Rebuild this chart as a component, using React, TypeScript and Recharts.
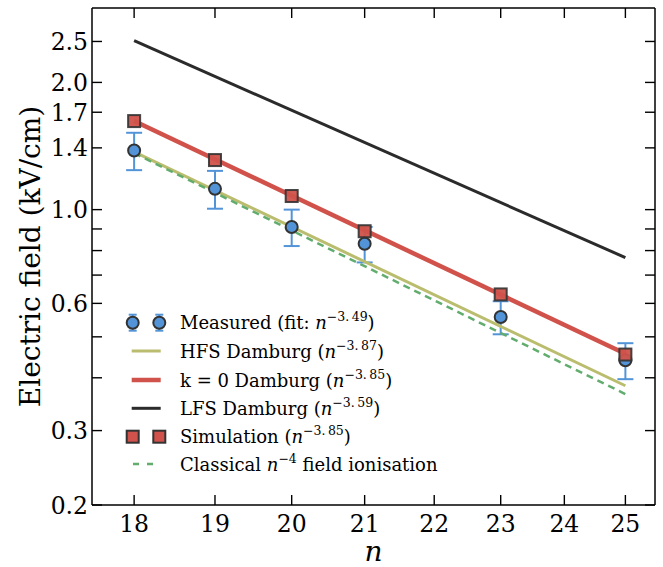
import React from 'react';
import { ComposedChart, Line, Scatter, XAxis, YAxis, ErrorBar, Legend } from 'recharts';

// ---- data ----
const nMeasured = [18, 19, 20, 21, 23, 25];
const measuredField = [1.38, 1.12, 0.91, 0.83, 0.557, 0.44];
const measuredError = [0.14, 0.115, 0.09, 0.08, 0.05, 0.043];
const simulationField = [1.62, 1.31, 1.077, 0.889, 0.63, 0.454];
const lineN = [18, 25];
const hfsField = [1.37, 0.383];
const k0Field = [1.62, 0.456];
const lfsField = [2.51, 0.77];
const classicalField = [1.36, 0.366];
const xTicks = [18, 19, 20, 21, 22, 23, 24, 25];
const yTicks = [0.2, 0.3, 0.4, 0.5, 0.6, 0.7, 0.8, 0.9, 1.0, 1.4, 1.7, 2.0, 2.5];
const yLabelled = [0.2, 0.3, 0.6, 1.0, 1.4, 1.7, 2.0, 2.5];
const legendLabels = [
  { pre: 'Measured (fit: ', exp: '\u22123.\u200949', post: ')' },
  { pre: 'HFS Damburg (', exp: '\u22123.\u200987', post: ')' },
  { pre: 'k = 0 Damburg (', exp: '\u22123.\u200985', post: ')' },
  { pre: 'LFS Damburg (', exp: '\u22123.\u200959', post: ')' },
  { pre: 'Simulation (', exp: '\u22123.\u200985', post: ')' },
  { pre: 'Classical ', exp: '\u22124', post: ' field ionisation' },
];

const measuredData = nMeasured.map((n, i) => ({ n, v: measuredField[i], err: measuredError[i] }));
const simulationData = nMeasured.map((n, i) => ({ n, v: simulationField[i] }));
const hfsData = lineN.map((n, i) => ({ n, v: hfsField[i] }));
const k0Data = lineN.map((n, i) => ({ n, v: k0Field[i] }));
const lfsData = lineN.map((n, i) => ({ n, v: lfsField[i] }));
const classicalData = lineN.map((n, i) => ({ n, v: classicalField[i] }));

// ---- style ----
const FONT = "'DejaVu Serif', serif";
const BLUE = '#5394d8';
const RED = '#d0524a';
const OLIVE = '#bbbd6e';
const BLACK = '#2b2b2b';
const GREEN = '#62ad6e';
const EDGE = '#333333';
const TICK_LEN = 10;
const TICK_FS = 23.5;

const BottomTick = (props: any) => {
  const { x, y, payload } = props;
  return (
    <g>
      <line x1={x} x2={x} y1={y} y2={y - TICK_LEN} stroke="#000" strokeWidth={1.4} />
      <text x={x} y={y + 27} textAnchor="middle" fontFamily={FONT} fontSize={TICK_FS} fill="#000">
        {payload.value}
      </text>
    </g>
  );
};
const TopTick = (props: any) => {
  const { x, y } = props;
  return <line x1={x} x2={x} y1={y} y2={y + TICK_LEN} stroke="#000" strokeWidth={1.4} />;
};
const LeftTick = (props: any) => {
  const { x, y, payload } = props;
  const v = payload.value;
  const show = yLabelled.some((t) => Math.abs(t - v) < 1e-9);
  return (
    <g>
      <line x1={x} x2={x + TICK_LEN} y1={y} y2={y} stroke="#000" strokeWidth={1.4} />
      {show && (
        <text x={x - 4} y={y + 8.5} textAnchor="end" fontFamily={FONT} fontSize={TICK_FS} fill="#000">
          {v.toFixed(1)}
        </text>
      )}
    </g>
  );
};
const RightTick = (props: any) => {
  const { x, y } = props;
  return <line x1={x - TICK_LEN} x2={x} y1={y} y2={y} stroke="#000" strokeWidth={1.4} />;
};

const CircleShape = (props: any) => (
  <circle cx={props.cx} cy={props.cy} r={6} fill={BLUE} stroke={EDGE} strokeWidth={2} />
);
const SquareShape = (props: any) => (
  <rect x={props.cx - 6} y={props.cy - 6} width={12} height={12} fill={RED} fillOpacity={0.95} stroke={EDGE} strokeWidth={2} strokeOpacity={0.9} />
);

const LegendBox = () => {
  const rows = [17.7, 46, 75, 103.3, 131.7, 159];
  const mx = [22.7, 49.3];
  return (
    <svg width={380} height={180} style={{ display: 'block', overflow: 'visible' }}>
      {mx.map((x) => (
        <g key={'m' + x}>
          <line x1={x} x2={x} y1={rows[0] - 8} y2={rows[0] + 8} stroke={BLUE} strokeWidth={2} />
          <line x1={x - 4} x2={x + 4} y1={rows[0] - 8} y2={rows[0] - 8} stroke={BLUE} strokeWidth={2} />
          <line x1={x - 4} x2={x + 4} y1={rows[0] + 8} y2={rows[0] + 8} stroke={BLUE} strokeWidth={2} />
          <circle cx={x} cy={rows[0]} r={6} fill={BLUE} stroke={EDGE} strokeWidth={2} />
        </g>
      ))}
      <line x1={21.7} x2={50.7} y1={rows[1]} y2={rows[1]} stroke={OLIVE} strokeWidth={3} />
      <line x1={21.7} x2={50.7} y1={rows[2]} y2={rows[2]} stroke={RED} strokeWidth={4.5} />
      <line x1={21.7} x2={50.7} y1={rows[3]} y2={rows[3]} stroke={BLACK} strokeWidth={3} />
      {mx.map((x) => (
        <rect key={'s' + x} x={x - 6} y={rows[4] - 6} width={12} height={12} fill={RED} stroke={EDGE} strokeWidth={2} />
      ))}
      <line x1={23} x2={43} y1={rows[5]} y2={rows[5]} stroke={GREEN} strokeWidth={2.5} strokeDasharray="6 8" />
      {legendLabels.map((l, i) => (
        <text key={i} x={70} y={rows[i] + 6.5} fontFamily={FONT} fontSize={18} fill="#000" style={{ whiteSpace: 'pre' }}>
          <tspan>{l.pre}</tspan>
          <tspan fontStyle="italic">n</tspan>
          <tspan dy={-8} fontSize={12.5}>{l.exp}</tspan>
          <tspan dy={8}>{l.post}</tspan>
        </text>
      ))}
    </svg>
  );
};

export default function App() {
  return (
    <div style={{ position: 'absolute', left: 0, top: 0, width: 663, height: 567, background: '#fff' }}>
      <ComposedChart width={663} height={567} margin={{ top: 7, right: 7, bottom: 0, left: 0 }}>
        <XAxis
          dataKey="n"
          type="number"
          scale="log"
          domain={[17.5, 25.5]}
          allowDataOverflow
          ticks={xTicks}
          interval={0}
          height={62}
          tickSize={0}
          tickMargin={0}
          axisLine={{ stroke: '#000', strokeWidth: 1.5 }}
          tick={<BottomTick />}
          label={(p: any) => {
            const vb = p.viewBox || { x: 92, y: 505, width: 563 };
            return (
              <text x={vb.x + vb.width / 2} y={vb.y + 56} textAnchor="middle" fontFamily={FONT} fontSize={28} fontStyle="italic" fill="#000">
                n
              </text>
            );
          }}
        />
        <XAxis
          xAxisId="top"
          orientation="top"
          dataKey="n"
          type="number"
          scale="log"
          domain={[17.5, 25.5]}
          allowDataOverflow
          ticks={xTicks}
          interval={0}
          height={1}
          tickSize={0}
          tickMargin={0}
          axisLine={{ stroke: '#000', strokeWidth: 1.5 }}
          tick={<TopTick />}
        />
        <YAxis
          dataKey="v"
          type="number"
          scale="log"
          domain={[0.2, 3.0]}
          allowDataOverflow
          ticks={yTicks}
          interval={0}
          width={92}
          tickSize={0}
          tickMargin={0}
          axisLine={{ stroke: '#000', strokeWidth: 1.5 }}
          tick={<LeftTick />}
          label={(p: any) => {
            const vb = p.viewBox || { x: 0, y: 8, height: 497 };
            const cx = vb.x + 40;
            const cy = vb.y + vb.height / 2;
            return (
              <text x={cx} y={cy} transform={`rotate(-90 ${cx} ${cy})`} textAnchor="middle" fontFamily={FONT} fontSize={28} fill="#000">
                Electric field (kV/cm)
              </text>
            );
          }}
        />
        <YAxis
          yAxisId="right"
          orientation="right"
          dataKey="v"
          type="number"
          scale="log"
          domain={[0.2, 3.0]}
          allowDataOverflow
          ticks={yTicks}
          interval={0}
          width={1}
          tickSize={0}
          tickMargin={0}
          axisLine={{ stroke: '#000', strokeWidth: 1.5 }}
          tick={<RightTick />}
        />
        <Scatter data={measuredData} dataKey="v" isAnimationActive={false} shape={<CircleShape />}>
          <ErrorBar dataKey="err" direction="y" width={8} stroke={BLUE} strokeWidth={2} />
        </Scatter>
        <Line data={hfsData} dataKey="v" stroke={OLIVE} strokeWidth={3} dot={false} isAnimationActive={false} />
        <Line data={k0Data} dataKey="v" stroke={RED} strokeWidth={4.5} dot={false} isAnimationActive={false} />
        <Line data={lfsData} dataKey="v" stroke={BLACK} strokeWidth={3} dot={false} isAnimationActive={false} />
        <Scatter data={simulationData} dataKey="v" isAnimationActive={false} shape={<SquareShape />} />
        <Line
          data={classicalData}
          dataKey="v"
          xAxisId="top"
          yAxisId="right"
          stroke={GREEN}
          strokeWidth={2.5}
          strokeDasharray="7 5"
          dot={false}
          isAnimationActive={false}
        />
        <Legend
          layout="horizontal"
          verticalAlign="middle"
          align="center"
          content={<LegendBox />}
          wrapperStyle={{ position: 'absolute', left: 110, top: 305, width: 380, height: 180 }}
        />
      </ComposedChart>
    </div>
  );
}
